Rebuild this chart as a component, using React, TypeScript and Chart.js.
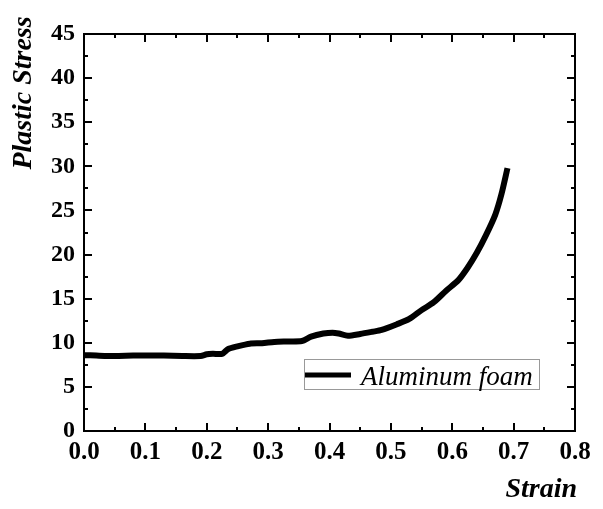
import React, { useEffect, useRef } from "react";
import { Chart, registerables } from "chart.js";

Chart.register(...registerables);

const seriesLabel = "Aluminum foam";
const xTitle = "Strain";
const yTitle = "Plastic Stress";

const strain = [
  0.0, 0.02, 0.05, 0.08, 0.1, 0.13, 0.16, 0.19, 0.2, 0.21, 0.225, 0.235, 0.25, 0.27, 0.29, 0.31,
  0.33, 0.355, 0.37, 0.39, 0.405, 0.415, 0.43, 0.45, 0.47, 0.485, 0.51, 0.53, 0.55, 0.57, 0.59,
  0.61, 0.625, 0.64, 0.655, 0.67, 0.68, 0.69,
];
const stress = [
  8.6, 8.55, 8.5, 8.55, 8.55, 8.55, 8.5, 8.5, 8.7, 8.75, 8.75, 9.3, 9.6, 9.9, 9.95, 10.1,
  10.15, 10.2, 10.7, 11.05, 11.15, 11.05, 10.8, 11.0, 11.25, 11.45, 12.1, 12.7, 13.7, 14.6, 15.9,
  17.1, 18.5, 20.2, 22.2, 24.5, 26.8, 29.8,
];

const xMin = 0, xMax = 0.8, xStep = 0.1;
const yMin = 0, yMax = 45, yStep = 5;

const SERIF = '"Liberation Serif", "Times New Roman", Tinos, "DejaVu Serif", serif';

const framePlugin = {
  id: "frameAndTicks",
  afterDraw(chart: any) {
    const ctx = chart.ctx;
    const { left, right, top, bottom } = chart.chartArea;
    const xs = chart.scales.x;
    const ys = chart.scales.y;
    ctx.save();
    ctx.strokeStyle = "#000";
    ctx.lineWidth = 2;
    ctx.beginPath();
    ctx.rect(left, top, right - left, bottom - top);
    ctx.stroke();
    const major = 8, minor = 4;
    ctx.beginPath();
    const nx = Math.round((xMax - xMin) / (xStep / 2));
    for (let i = 0; i <= nx; i++) {
      const v = xMin + (i * xStep) / 2;
      const px = Math.round(xs.getPixelForValue(v));
      const len = i % 2 === 0 ? major : minor;
      ctx.moveTo(px, bottom); ctx.lineTo(px, bottom - len);
      ctx.moveTo(px, top); ctx.lineTo(px, top + len);
    }
    const ny = Math.round((yMax - yMin) / (yStep / 2));
    for (let i = 0; i <= ny; i++) {
      const v = yMin + (i * yStep) / 2;
      const py = Math.round(ys.getPixelForValue(v));
      const len = i % 2 === 0 ? major : minor;
      ctx.moveTo(left, py); ctx.lineTo(left + len, py);
      ctx.moveTo(right, py); ctx.lineTo(right - len, py);
    }
    ctx.stroke();

    // axis titles
    ctx.fillStyle = "#000";
    ctx.font = `italic bold 28px ${SERIF}`;
    ctx.textAlign = "right";
    ctx.textBaseline = "alphabetic";
    ctx.fillText(xTitle, 577, 497);

    ctx.save();
    ctx.translate(24, 93);
    ctx.rotate(-Math.PI / 2);
    ctx.font = `italic bold 28px ${SERIF}`;
    ctx.textAlign = "center";
    ctx.textBaseline = "middle";
    ctx.fillText(yTitle, 0, 0);
    ctx.restore();

    // legend
    const ds = chart.data.datasets[0];
    ctx.strokeStyle = "#999";
    ctx.lineWidth = 1;
    ctx.strokeRect(304.5, 359.5, 235, 30);
    ctx.strokeStyle = "#000";
    ctx.lineWidth = 5;
    ctx.beginPath();
    ctx.moveTo(305, 375);
    ctx.lineTo(351, 375);
    ctx.stroke();
    ctx.font = `italic 27px ${SERIF}`;
    ctx.textAlign = "left";
    ctx.textBaseline = "alphabetic";
    ctx.fillText(ds.label, 361, 385);
    ctx.restore();
  },
};

export default function App() {
  const ref = useRef<HTMLCanvasElement | null>(null);
  useEffect(() => {
    if (!ref.current) return;
    const data = strain.map((x, i) => ({ x, y: stress[i] }));
    const chart = new Chart(ref.current, {
      type: "line",
      data: {
        datasets: [
          {
            label: seriesLabel,
            data,
            borderColor: "#000",
            borderWidth: 6,
            pointRadius: 0,
            tension: 0.25,
            fill: false,
          },
        ],
      },
      options: {
        responsive: false,
        animation: false,
        layout: { padding: { top: 34, right: 28, left: 0, bottom: 0 } },
        plugins: { legend: { display: false }, tooltip: { enabled: false } },
        scales: {
          x: {
            type: "linear",
            min: xMin,
            max: xMax,
            grid: { display: false, drawTicks: false },
            border: { display: true, color: "#000", width: 2 },
            afterFit: (s: any) => { s.height = 78; },
            ticks: {
              stepSize: xStep,
              autoSkip: false,
              maxRotation: 0,
              padding: 7,
              color: "#000",
              font: { family: SERIF, size: 25, weight: "bold" },
              callback: (v: any) => Number(v).toFixed(1),
            },
          },
          y: {
            type: "linear",
            min: yMin,
            max: yMax,
            grid: { display: false, drawTicks: false },
            border: { display: true, color: "#000", width: 2 },
            afterFit: (s: any) => { s.width = 84; },
            ticks: {
              stepSize: yStep,
              autoSkip: false,
              padding: 9,
              color: "#000",
              font: { family: SERIF, size: 24, weight: "bold" },
            },
          },
        },
      },
      plugins: [framePlugin],
    });
    return () => chart.destroy();
  }, []);
  return (
    <div style={{ position: "absolute", left: 0, top: 0, width: 603, height: 509, background: "#fff" }}>
      <canvas ref={ref} width={603} height={509} />
    </div>
  );
}
